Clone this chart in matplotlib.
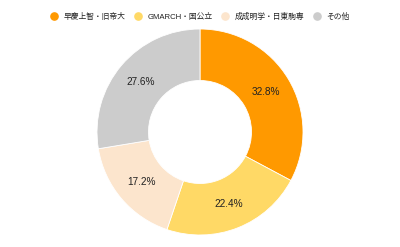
import matplotlib
matplotlib.use('Agg')
import matplotlib.pyplot as plt
from matplotlib.lines import Line2D

plt.rcParams['font.family'] = ['Liberation Sans', 'Noto Sans CJK JP', 'DejaVu Sans']

labels = ['早慶上智・旧帝大', 'GMARCH・国公立', '成成明学・日東駒専', 'その他']
values = [32.8, 22.4, 17.2, 27.6]
colors = ['#ff9900', '#ffd966', '#fce5cd', '#cccccc']

W, H = 400, 247
fig = plt.figure(figsize=(W / 100, H / 100), dpi=100)

# pie centre (200, 132) px from top-left, outer radius 103 px, limits +-1.25
cx, cy, r = 200, 132, 103
half = r * 1.25
ax = fig.add_axes([(cx - half) / W, (H - cy - half) / H, 2 * half / W, 2 * half / H])

wedges, texts, autotexts = ax.pie(
    values, colors=colors, startangle=90, counterclock=False,
    autopct='%1.1f%%', pctdistance=0.75,
    wedgeprops=dict(width=0.5, edgecolor='white', linewidth=0.6),
    textprops=dict(fontsize=7.2, color='#222222'))
ax.set_xlim(-1.25, 1.25)
ax.set_ylim(-1.25, 1.25)
ax.set_aspect('equal')

# legend drawn by hand, x positions of the markers in px
leg_x = [54, 137.5, 225, 316.5]
leg_y = 1 - 16.5 / H
for x, lab, c in zip(leg_x, labels, colors):
    fig.add_artist(Line2D([x / W], [leg_y], marker='o', markersize=5.2,
                          markerfacecolor=c, markeredgecolor=c,
                          linestyle='', transform=fig.transFigure))
    fig.text((x + 10) / W, leg_y, lab, fontsize=5.6, color='#222222',
             ha='left', va='center')

fig.savefig('out.png', dpi=100, facecolor='white')
